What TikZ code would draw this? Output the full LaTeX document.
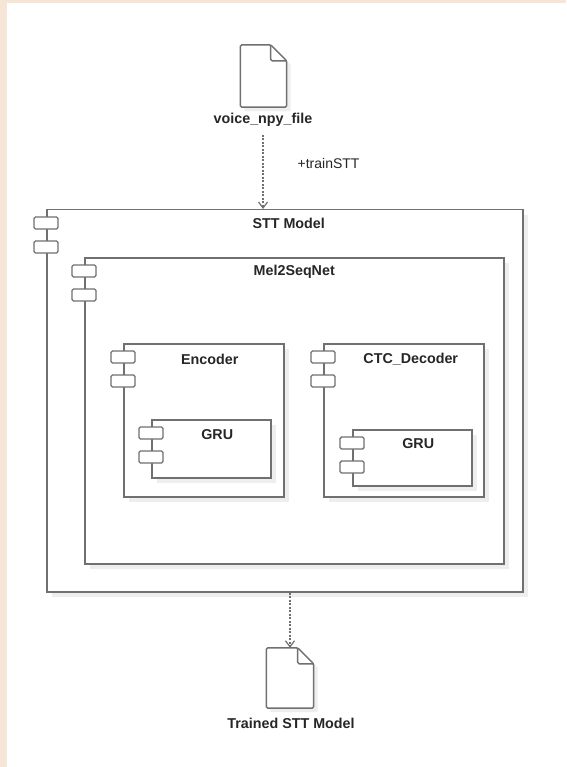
\documentclass[tikz,border=0pt]{standalone}
\usepackage{fontspec}
\setmainfont{Liberation Sans}
\usetikzlibrary{arrows.meta,shadows}
\definecolor{bgc}{HTML}{F5E6D6}
\definecolor{linec}{HTML}{707070}
\definecolor{shad}{HTML}{EEEEEE}
\newcommand\compports[1]{%
  \draw[port] ([shift={(-12,8)}]#1.north west) rectangle +(24,12);
  \draw[port] ([shift={(-12,32)}]#1.north west) rectangle +(24,12);}
\newcommand\filesheet[1]{%
  \fill[shad] ([shift={(4,4)}]#1.north west) -- ([shift={(-12,4)}]#1.north east) -- ([shift={(4,20)}]#1.north east) -- ([shift={(4,4)}]#1.south east) -- ([shift={(4,4)}]#1.south west) -- cycle;
  \draw[fileline,fill=white] (#1.north west) -- ([xshift=-16pt]#1.north east) -- ([yshift=-16pt]#1.north east) -- (#1.south east) -- (#1.south west) -- cycle;
  \draw[fileline] ([xshift=-16pt]#1.north east) |- ([yshift=-16pt]#1.north east);}
\begin{document}
\begin{tikzpicture}[x=1pt,y=-1pt,
  comp/.style={draw=linec, line width=1.5pt, fill=white, inner sep=0pt, anchor=north west,
    drop shadow={shadow xshift=5pt, shadow yshift=-5pt, fill=shad, opacity=1}},
  port/.style={draw=linec, line width=1.4pt, fill=white, rounded corners=1.5pt},
  fileline/.style={draw=linec, line width=1.5pt, rounded corners=1.5pt},
  filebox/.style={inner sep=0pt, minimum width=46pt, minimum height=62pt},
  lbl/.style={font=\bfseries\fontsize{14.3}{16}\selectfont, text=black!85, inner sep=0pt},
  small/.style={font=\fontsize{14}{16}\selectfont, text=black!85, inner sep=0pt},
  dep/.style={draw=linec, line width=1.3pt, dash pattern=on 2pt off 1.5pt,
    -{Straight Barb[length=6pt,width=9pt,line width=1.2pt]}}]
\useasboundingbox (0,0) rectangle (566,767);
\fill[bgc] (0,0) rectangle (566,767);
\fill[white] (7,3) rectangle (566,767);
% input file
\node[filebox] (f1) at (263.5,76) {};
\filesheet{f1}
\node[lbl] (l1) at (263,120) {voice\_npy\_file};
% components
\node[comp, minimum width=476pt, minimum height=382pt] (stt) at (46,209) {};
\compports{stt}
\node[lbl] (tstt) at ([shift={(4,14)}]stt.north) {STT Model};
\node[comp, minimum width=419pt, minimum height=306pt] (mel) at (84,257) {};
\compports{mel}
\node[lbl] (tmel) at ([shift={(0,15)}]mel.north) {Mel2SeqNet};
\node[comp, minimum width=160pt, minimum height=153pt] (enc) at (123,343) {};
\compports{enc}
\node[lbl] (tenc) at ([shift={(6,16)}]enc.north) {Encoder};
\node[comp, minimum width=119pt, minimum height=58pt] (gru1) at (151,419) {};
\compports{gru1}
\node[lbl] (tgru1) at ([shift={(6,16)}]gru1.north) {GRU};
\node[comp, minimum width=160pt, minimum height=153pt] (dec) at (323,343) {};
\compports{dec}
\node[lbl] (tdec) at ([shift={(7,16)}]dec.north) {CTC\_Decoder};
\node[comp, minimum width=119pt, minimum height=56pt] (gru2) at (352,429) {};
\compports{gru2}
\node[lbl] (tgru2) at ([shift={(6,15)}]gru2.north) {GRU};
% output file
\node[filebox, minimum width=47pt, minimum height=60pt] (f2) at (290,678) {};
\filesheet{f2}
\node[lbl] (l2) at (291,723) {Trained STT Model};
% connectors
\draw[dep, shorten <=8pt] (l1.south) -- (l1.south |- stt.north)
  node[small, pos=0.45, anchor=west, xshift=34pt] (trn) {+trainSTT};
\draw[dep] (stt.south -| f2.north) -- (f2.north);
\end{tikzpicture}
\end{document}
